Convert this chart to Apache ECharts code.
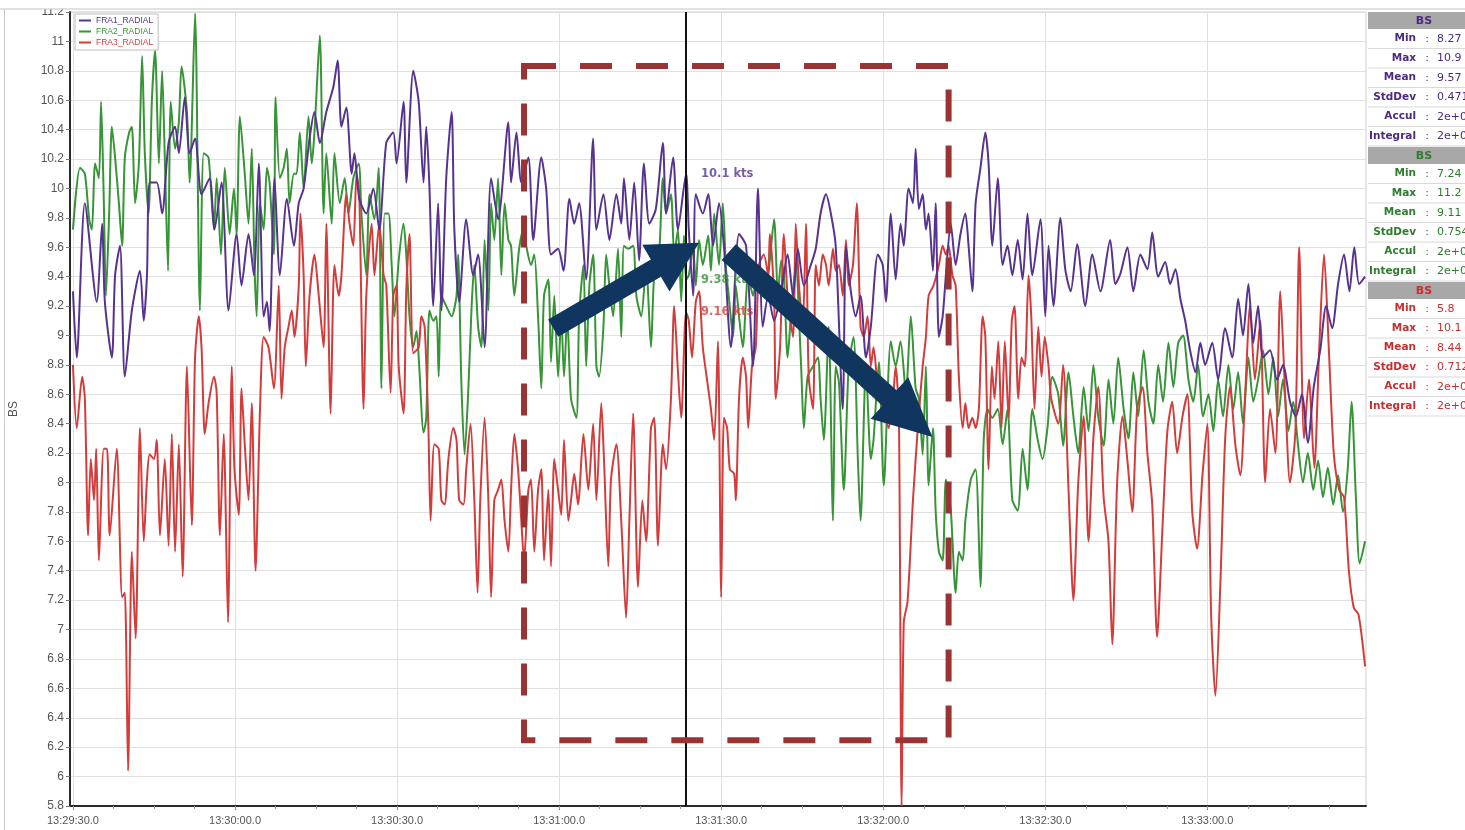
<!DOCTYPE html>
<html>
<head>
<meta charset="utf-8">
<script src="https://cdn.jsdelivr.net/npm/echarts@6/dist/echarts.min.js"></script>
<style>
  html, body { margin: 0; padding: 0; background: #fff; }
  #chart { width: 1465px; height: 830px; }
</style>
</head>
<body>
<div id="chart"></div>
<script>
// ---- Boat speed traces, [seconds after 13:29:30, knots] ----
const seriesNames = ['FRA1_RADIAL', 'FRA2_RADIAL', 'FRA3_RADIAL'];
const seriesColors = ['#56338f', '#379437', '#d43c3c'];

const fra1 = [[0,9.30],[0.7,8.85],[2.2,9.90],[4.4,9.23],[5.4,9.76],[5.9,9.23],[7.2,8.85],[7.8,9.41],[8.7,9.61],[9.6,8.72],[10.9,9.17],[12.4,9.44],[13.1,9.10],[13.7,9.41],[14.2,10.04],[15.5,10.04],[16.5,9.83],[17.7,10.31],[18.9,10.42],[19.6,10.24],[20.7,10.62],[21.6,10.24],[22.6,10.34],[23.8,9.96],[25.3,10.07],[26.2,9.72],[27.5,10.04],[28.8,9.17],[30.3,9.69],[31.2,9.34],[32.5,9.69],[33.5,9.41],[34.4,10.17],[35.3,9.13],[35.9,9.23],[36.4,9.03],[37.3,10.07],[38.3,9.41],[39.6,9.93],[40.9,9.61],[41.8,9.90],[42.7,10.00],[43.8,10.34],[44.7,10.52],[45.7,10.31],[46.9,10.52],[48.2,10.69],[49.0,10.87],[49.7,10.42],[50.6,10.55],[51.6,10.10],[52.1,10.24],[53.0,9.93],[54.3,9.83],[55.6,10.00],[56.7,9.72],[58.0,10.31],[59.3,10.38],[59.9,10.17],[61.2,10.59],[61.7,10.04],[63.0,10.80],[64.0,10.59],[64.9,10.04],[65.4,10.42],[66.0,10.00],[66.7,9.20],[67.6,9.90],[68.2,9.17],[69.1,10.07],[70.1,10.52],[70.6,9.72],[71.5,9.23],[72.8,9.79],[74.1,9.41],[75.0,9.55],[76.2,8.92],[77.4,10.07],[78.7,9.79],[80.6,10.45],[81.1,10.04],[82.1,10.38],[83.0,10.04],[84.3,10.21],[85.2,9.65],[86.7,10.21],[87.6,10.00],[88.5,9.55],[89.8,9.59],[90.8,9.44],[91.9,9.93],[92.8,9.76],[93.7,9.90],[95.0,9.38],[96.3,10.34],[96.9,9.72],[98.2,9.96],[99.3,9.65],[100.6,9.96],[101.5,9.76],[102.0,10.07],[103.0,9.65],[103.9,10.04],[104.8,9.51],[105.7,10.17],[106.7,9.76],[107.9,9.86],[109.2,10.31],[109.8,9.83],[111.1,10.21],[112.0,9.72],[113.5,10.10],[114.0,9.72],[114.8,9.27],[115.3,9.96],[116.6,9.83],[117.6,9.96],[118.5,9.61],[119.6,9.90],[120.5,9.61],[121.8,8.92],[123.3,9.69],[124.6,9.61],[125.9,8.79],[126.8,10.00],[127.7,9.06],[128.7,9.27],[129.8,9.10],[131.1,9.30],[132.3,9.55],[133.3,9.27],[134.2,9.59],[135.3,9.34],[136.6,9.48],[137.5,9.59],[138.4,9.83],[139.4,9.96],[140.3,9.83],[141.2,9.61],[142.5,8.50],[143.1,9.61],[144.0,9.30],[144.9,9.13],[145.8,9.27],[146.8,8.85],[147.7,9.06],[149.0,9.55],[149.9,9.48],[150.5,9.23],[151.4,9.83],[152.3,9.38],[153.2,9.76],[153.8,9.61],[154.7,10.00],[155.5,9.90],[156.0,10.27],[156.6,9.86],[157.3,9.96],[157.9,9.72],[158.4,9.83],[159.2,9.44],[159.7,9.90],[160.3,8.99],[161.0,9.13],[161.6,9.41],[162.5,9.76],[163.4,9.48],[164.3,9.69],[165.2,9.83],[165.8,9.61],[166.5,9.30],[167.1,9.90],[168.0,10.14],[168.9,10.38],[169.5,10.17],[170.2,9.61],[171.2,10.07],[172.1,9.48],[173.0,9.61],[173.9,9.41],[174.9,9.65],[175.8,9.38],[176.7,9.83],[177.6,9.41],[179.1,9.79],[180.0,9.13],[180.6,9.61],[181.5,9.20],[182.8,9.80],[183.7,9.45],[184.7,9.30],[185.9,9.62],[187.4,9.20],[188.7,9.55],[190.2,9.30],[192.0,9.65],[193.0,9.35],[193.9,9.42],[195.2,9.60],[196.3,9.30],[197.6,9.55],[198.9,9.45],[199.8,9.70],[200.9,9.40],[202.2,9.50],[203.1,9.35],[204.1,9.45],[205.0,9.25],[205.9,9.10],[206.8,8.90],[207.8,8.75],[208.7,8.95],[209.6,8.80],[210.9,8.95],[212.0,8.70],[213.3,9.05],[214.6,8.85],[215.7,9.25],[216.6,9.00],[217.6,9.35],[218.5,8.95],[219.4,9.20],[220.3,8.85],[221.6,8.90],[222.9,8.70],[224.0,8.80],[225.3,8.55],[226.4,8.45],[227.5,8.60],[228.6,8.27],[229.7,8.65],[230.9,8.90],[232.0,9.20],[233.1,9.05],[234.2,9.35],[235.3,9.55],[236.3,9.30],[237.2,9.60],[238.1,9.35],[239.2,9.40]];

const fra2 = [[0,9.72],[1.3,10.14],[2.2,10.10],[3.0,9.79],[3.5,9.72],[4.1,10.17],[4.8,10.07],[5.2,10.59],[5.7,9.93],[6.1,9.27],[6.7,9.83],[7.2,10.42],[7.8,10.21],[8.5,9.90],[9.1,9.61],[9.6,10.21],[10.4,10.38],[10.9,10.42],[11.5,9.90],[12.2,10.17],[12.8,10.90],[13.3,10.24],[14.0,9.83],[14.6,10.59],[15.2,10.94],[15.9,10.17],[16.5,10.80],[17.0,10.21],[17.6,9.44],[18.1,10.59],[18.9,10.27],[19.6,10.45],[20.1,10.83],[21.1,10.52],[21.6,10.04],[22.6,11.19],[23.5,9.17],[24.2,10.24],[25.1,10.21],[26.1,9.72],[26.6,10.07],[27.4,9.55],[28.1,10.14],[29.0,9.69],[29.8,10.00],[30.3,9.69],[30.9,10.49],[31.8,10.10],[32.5,9.76],[33.1,10.27],[33.6,9.48],[34.0,9.13],[34.6,9.90],[35.3,9.72],[35.9,10.14],[36.4,10.04],[37.2,9.55],[37.5,10.62],[38.3,10.07],[39.0,10.14],[39.6,10.27],[40.1,9.90],[40.9,10.10],[41.4,10.10],[42.0,10.38],[42.7,10.00],[43.6,10.49],[44.2,10.17],[44.7,10.38],[45.7,11.04],[46.4,9.83],[46.9,10.24],[47.9,9.76],[48.4,10.24],[49.4,9.90],[50.3,10.07],[51.0,9.83],[51.9,10.07],[52.9,10.17],[53.4,9.83],[54.3,9.41],[54.9,9.96],[55.8,9.79],[56.6,10.14],[57.1,8.64],[57.7,9.83],[58.4,9.83],[59.0,9.48],[59.5,9.13],[60.3,9.51],[61.2,9.76],[61.7,9.55],[62.3,9.13],[63.0,8.92],[63.6,9.03],[64.1,8.79],[64.9,8.34],[65.4,8.44],[66.0,9.17],[66.7,9.10],[67.3,9.13],[67.7,8.72],[68.2,9.27],[69.1,9.20],[70.1,9.13],[71.0,9.27],[71.3,9.55],[71.9,8.68],[72.5,8.19],[73.2,8.64],[73.8,9.20],[74.3,9.48],[75.0,9.06],[75.6,8.92],[76.2,9.65],[76.9,9.17],[77.4,9.90],[78.0,9.65],[78.7,10.07],[79.3,9.41],[79.9,9.90],[80.6,9.65],[81.1,9.61],[81.7,9.27],[82.6,9.59],[83.4,9.72],[83.9,9.61],[84.8,9.48],[85.4,9.55],[86.1,9.13],[86.7,8.64],[87.2,9.27],[88.0,9.38],[88.5,8.82],[89.1,9.27],[89.8,8.72],[90.4,9.13],[90.9,8.72],[91.5,9.13],[92.2,8.57],[93.2,8.44],[93.7,9.13],[94.5,9.48],[95.0,8.79],[95.6,9.34],[96.3,9.55],[96.9,8.79],[97.4,8.72],[98.2,9.06],[98.7,9.55],[99.3,9.34],[100.0,9.13],[100.9,9.59],[101.5,8.99],[102.0,9.61],[102.8,9.59],[103.7,9.61],[104.3,9.27],[105.2,9.13],[106.1,9.48],[107.0,8.92],[107.6,9.41],[108.5,9.55],[109.2,10.07],[109.8,9.83],[110.7,9.96],[111.3,9.55],[112.0,9.72],[112.6,9.23],[113.1,9.68],[113.5,9.38],[114.0,9.41],[114.8,9.59],[115.3,9.34],[115.9,9.65],[116.6,9.48],[117.6,9.68],[118.1,9.44],[118.7,9.83],[119.6,9.48],[120.3,9.90],[120.9,9.45],[121.4,9.27],[122.2,8.99],[122.7,9.34],[123.3,9.13],[124.0,8.92],[125.0,9.41],[125.9,9.27],[126.8,9.48],[127.7,9.27],[128.7,9.41],[129.8,9.79],[130.5,9.27],[131.1,9.51],[131.6,9.41],[132.3,8.85],[132.9,9.13],[133.8,9.48],[134.8,8.79],[135.3,8.37],[136.0,8.72],[137.0,8.79],[137.9,8.85],[138.4,8.57],[139.0,8.29],[139.9,9.06],[140.7,7.74],[141.2,8.79],[141.8,8.68],[142.7,7.95],[143.6,8.79],[144.5,8.99],[145.3,8.16],[145.8,7.74],[146.8,8.79],[147.7,8.16],[148.2,8.29],[149.2,8.82],[150.1,7.98],[151.4,8.96],[152.3,8.79],[153.2,8.96],[154.2,8.61],[155.1,9.13],[156.0,8.64],[156.6,8.57],[157.3,8.19],[157.9,8.79],[158.4,7.98],[159.2,8.37],[159.7,7.81],[160.3,7.53],[161.0,7.47],[161.6,8.02],[162.5,7.81],[163.4,7.25],[164.0,7.53],[164.7,7.47],[165.2,7.74],[166.2,8.02],[167.1,8.09],[168.0,7.29],[168.6,8.29],[169.3,8.50],[170.2,8.44],[171.2,8.50],[172.1,8.26],[173.0,8.50],[173.9,7.88],[174.9,7.81],[175.8,8.23],[176.7,7.95],[177.6,8.50],[178.6,8.29],[179.5,8.16],[180.4,8.37],[181.3,8.72],[182.4,8.60],[183.3,8.25],[184.3,8.75],[185.2,8.45],[186.1,8.20],[187.1,8.65],[188.0,8.35],[188.9,8.80],[189.8,8.45],[190.8,8.25],[191.7,8.70],[192.6,8.40],[193.5,8.85],[194.5,8.50],[195.4,8.30],[196.3,8.75],[197.2,8.45],[198.2,8.90],[199.1,8.55],[200.0,8.40],[200.9,8.80],[201.8,8.55],[202.8,8.95],[203.7,8.65],[204.6,8.95],[205.5,9.00],[206.5,8.70],[207.4,8.55],[208.3,8.80],[209.2,8.45],[210.2,8.60],[211.1,8.35],[212.0,8.70],[212.9,8.45],[213.9,8.80],[214.8,8.50],[215.7,8.75],[216.6,8.40],[217.6,8.85],[218.5,8.55],[219.4,8.70],[220.3,8.90],[221.3,8.60],[222.2,8.85],[223.1,8.45],[224.0,8.70],[225.0,8.35],[225.9,8.55],[226.8,8.25],[227.7,8.00],[228.6,8.20],[229.6,7.95],[230.5,8.15],[231.4,7.90],[232.3,8.10],[233.3,7.85],[234.2,8.05],[235.1,7.80],[236.0,8.10],[236.7,8.55],[237.5,7.90],[238.2,7.45],[239.2,7.60]];

const fra3 = [[0,8.80],[0.7,8.37],[1.7,8.72],[2.2,8.57],[2.8,7.64],[3.3,8.16],[3.9,7.88],[4.3,8.23],[4.8,7.47],[5.7,8.23],[6.3,8.23],[6.8,7.64],[8.1,8.23],[9.1,7.22],[9.6,7.25],[10.2,6.04],[10.9,7.53],[11.6,6.94],[12.4,8.37],[13.1,7.60],[13.7,8.02],[14.2,8.19],[15.0,8.16],[15.5,8.29],[16.1,7.64],[17.0,8.16],[17.7,7.57],[18.3,8.33],[18.9,7.53],[19.6,8.26],[20.3,7.36],[21.1,8.79],[22.0,7.71],[22.6,8.85],[23.3,9.13],[23.8,8.92],[24.4,8.33],[25.1,8.54],[26.1,8.72],[26.6,8.61],[27.2,7.64],[27.9,8.33],[28.7,7.05],[29.4,8.79],[29.9,8.09],[30.7,7.78],[31.2,8.64],[31.8,8.26],[32.5,7.88],[33.1,8.54],[33.8,7.40],[34.6,8.47],[35.3,8.99],[36.2,8.92],[37.2,8.64],[38.1,9.34],[38.6,8.57],[39.2,8.92],[39.9,9.06],[40.5,9.17],[41.0,8.99],[41.8,9.34],[42.1,9.83],[42.7,9.41],[43.1,8.79],[43.8,9.27],[44.7,9.55],[45.5,9.27],[46.4,8.92],[46.9,9.76],[47.7,8.47],[48.4,9.48],[49.2,9.27],[49.7,9.41],[50.6,9.96],[51.2,9.76],[51.9,9.61],[52.5,10.10],[53.0,9.96],[53.8,8.50],[54.3,9.27],[55.3,9.76],[55.8,9.41],[56.7,9.76],[57.5,9.41],[58.0,9.34],[58.8,8.61],[59.3,9.27],[59.9,9.34],[60.3,8.79],[61.2,8.47],[61.7,9.30],[62.3,9.69],[63.0,8.88],[64.0,8.92],[64.5,9.13],[65.1,9.06],[65.8,8.37],[66.2,7.74],[66.9,8.26],[67.7,8.23],[68.2,7.88],[68.8,7.85],[69.5,8.16],[70.4,8.37],[71.0,8.29],[71.5,7.88],[72.3,7.85],[72.8,8.09],[73.6,8.40],[74.3,7.88],[74.9,7.25],[75.4,7.88],[76.2,8.44],[76.9,7.88],[77.4,7.22],[78.0,7.88],[78.7,7.95],[79.3,8.02],[79.9,7.74],[80.6,7.53],[81.1,7.95],[81.7,8.33],[82.4,8.09],[83.0,7.74],[83.5,7.47],[84.3,7.95],[84.8,8.02],[85.4,7.53],[86.1,7.95],[86.7,8.09],[87.2,7.47],[88.0,7.95],[88.5,7.43],[89.1,8.16],[89.8,7.95],[90.4,7.78],[90.9,8.29],[91.7,7.74],[92.2,7.88],[92.8,8.06],[93.5,7.85],[94.5,8.33],[95.4,7.95],[96.3,8.40],[96.9,7.88],[97.8,8.54],[98.3,8.16],[99.1,7.43],[99.6,8.02],[100.6,8.26],[101.5,7.74],[102.4,7.08],[103.0,7.74],[103.7,8.47],[104.6,7.29],[105.4,7.88],[106.1,7.60],[107.0,8.37],[107.6,8.44],[108.3,7.57],[109.2,8.26],[109.8,8.09],[110.7,8.57],[111.3,9.20],[112.0,8.75],[112.6,8.44],[113.5,9.16],[114.0,9.10],[114.6,8.85],[115.3,9.23],[115.9,9.30],[116.6,8.92],[117.6,8.64],[118.1,8.50],[118.7,8.29],[119.4,8.96],[120.0,7.22],[120.5,8.44],[121.1,8.37],[121.6,8.09],[122.4,8.06],[122.7,7.88],[123.3,8.57],[124.0,8.85],[124.6,8.72],[125.0,8.37],[125.7,8.79],[126.4,8.92],[127.0,9.48],[127.9,9.55],[128.7,9.41],[129.0,9.69],[129.8,9.27],[130.1,8.57],[130.9,8.92],[131.6,9.69],[132.3,9.27],[133.3,8.99],[133.8,9.76],[134.4,9.34],[135.1,9.06],[135.7,9.76],[136.2,8.72],[137.0,8.50],[137.5,9.48],[138.1,9.34],[138.8,9.55],[139.4,9.48],[139.9,9.34],[140.7,9.59],[141.2,9.44],[141.8,9.48],[142.5,9.27],[143.1,9.65],[143.6,9.34],[144.4,9.48],[145.1,9.90],[145.8,9.06],[146.4,8.99],[147.1,9.13],[147.7,8.79],[148.2,8.92],[149.2,8.57],[150.1,8.50],[150.5,8.44],[151.0,8.37],[151.8,8.57],[152.3,8.79],[152.9,8.44],[153.4,5.80],[153.8,7.05],[154.5,7.19],[155.5,7.88],[156.4,8.37],[157.3,8.79],[157.9,8.99],[158.4,9.27],[159.3,9.34],[160.3,9.48],[161.0,9.61],[161.6,9.55],[162.1,9.61],[162.8,9.41],[163.4,9.34],[164.0,8.72],[164.7,8.37],[165.2,8.54],[165.8,8.37],[166.5,8.44],[167.1,8.37],[167.7,8.50],[168.4,9.13],[168.9,8.99],[169.5,8.09],[170.1,8.79],[170.6,8.57],[171.3,8.96],[171.9,8.37],[172.5,8.96],[173.2,8.44],[173.8,9.10],[174.3,9.20],[175.0,8.57],[175.6,8.85],[176.2,8.79],[176.9,9.41],[177.4,9.13],[178.0,8.50],[178.7,9.06],[179.3,8.72],[179.9,8.99],[180.6,8.79],[181.1,8.57],[182.4,8.40],[183.3,8.80],[184.3,7.95],[185.2,7.20],[186.1,8.00],[187.1,8.45],[188.0,7.60],[188.9,8.30],[189.8,8.65],[190.8,7.90],[191.7,7.60],[192.4,6.90],[193.3,8.00],[194.3,8.45],[195.2,8.15],[196.1,7.80],[197.0,8.50],[198.0,8.65],[198.9,8.20],[199.8,7.85],[200.7,6.95],[201.7,7.70],[202.6,8.35],[203.5,8.55],[204.4,8.20],[205.4,8.45],[206.3,8.60],[207.2,7.80],[208.1,7.55],[209.1,8.05],[210.0,8.40],[210.7,7.10],[211.5,6.55],[212.4,7.30],[213.3,8.30],[214.2,8.65],[215.2,8.25],[216.1,8.05],[217.0,8.60],[217.9,9.20],[218.8,8.70],[219.8,9.10],[220.7,8.00],[221.6,8.50],[222.6,8.20],[223.5,9.30],[224.4,8.60],[225.3,8.00],[226.3,8.35],[227.0,9.60],[227.9,8.30],[228.8,8.70],[229.8,8.10],[230.7,8.90],[231.6,9.55],[232.5,8.90],[233.4,8.20],[234.4,7.95],[235.3,7.90],[236.2,7.40],[237.1,7.15],[238.0,7.10],[239.2,6.75]];

// ---- Axes ----
const startClock = 13 * 3600 + 29 * 60 + 30;           // 13:29:30.0
const timeTicks = [0, 30, 60, 90, 120, 150, 180, 210];
const minorTimeTicks = [0, 7.5, 15, 22.5, 30, 37.5, 45, 52.5, 60, 67.5, 75, 82.5, 90, 97.5, 105, 112.5, 120, 127.5, 135, 142.5, 150, 157.5, 165, 172.5, 180, 187.5, 195, 202.5, 210, 217.5, 225, 232.5];

// ---- Cursor readout ----
const cursorTime = 113.5;
const cursorValues = [10.1, 9.38, 9.16];

// ---- Statistics panel ----
const statLabels = ['Min', 'Max', 'Mean', 'StdDev', 'Accul', 'Integral'];
const fra1Stats = ['8.27', '10.9', '9.57', '0.471', '2e+03', '2e+03'];
const fra2Stats = ['7.24', '11.2', '9.11', '0.754', '2e+03', '2e+03'];
const fra3Stats = ['5.8', '10.1', '8.44', '0.712', '2e+03', '2e+03'];
const statTitle = 'BS';
const statColors = ['#4a2b80', '#2e7d2e', '#c62f2f'];

// ---- Highlight annotations (data space) ----
const focusBox = { from: [83.5, 10.833], to: [162.1, 6.248] };
const upArrow = { from: [88.9, 9.05], to: [115.9, 9.63] };
const downArrow = { from: [121.4, 9.567], to: [159.1, 8.309] };

function fmtTime(t) {
  const s = startClock + Math.round(t * 10) / 10;
  const h = Math.floor(s / 3600);
  const m = Math.floor((s % 3600) / 60);
  const sec = s - h * 3600 - m * 60;
  return h + ':' + String(m).padStart(2, '0') + ':' + sec.toFixed(1).padStart(4, '0');
}

const chart = echarts.init(document.getElementById('chart'), null, { renderer: 'canvas' });
const FONT = '"Liberation Sans", Arial, sans-serif';
const PANEL_FONT = '"DejaVu Sans", Verdana, sans-serif';

const traceData = [fra1, fra2, fra3];
const lineSeries = seriesNames.map((name, i) => ({
  name,
  type: 'line',
  data: traceData[i],
  showSymbol: false,
  symbol: 'none',
  smooth: 0.25,
  lineStyle: { width: 2, color: seriesColors[i] },
  itemStyle: { color: seriesColors[i] },
  z: [4, 2, 3][i],
  markLine: i === 0 ? {
    silent: true,
    symbol: ['none', 'none'],
    label: { show: false },
    lineStyle: { color: '#111', width: 2, type: 'solid' },
    data: [{ xAxis: cursorTime }]
  } : undefined
}));

const readoutSeries = seriesNames.map((name, i) => ({
  name: name + ' cursor',
  type: 'scatter',
  data: [[cursorTime, cursorValues[i]]],
  symbolSize: 0,
  z: 10,
  label: {
    show: true,
    position: 'right',
    distance: 15,
    formatter: p => p.value[1] + ' kts',
    color: seriesColors[i],
    fontWeight: 'bold',
    fontSize: 11.5,
    fontFamily: PANEL_FONT
  }
}));

// statistics panel on the right
const panel = [];
[fra1Stats, fra2Stats, fra3Stats].forEach((vals, g) => {
  const top = 12 + g * 135;
  panel.push({ type: 'rect', id: 'hdr' + g, shape: { x: 1368, y: top, width: 97, height: 17 },
    style: { fill: '#a8a8a8' }, z: 50 });
  panel.push({ type: 'text', id: 'hdrT' + g, x: 1424, y: top + 9,
    style: { text: statTitle, fill: statColors[g], font: 'bold 11px ' + PANEL_FONT,
      align: 'center', textAlign: 'center', verticalAlign: 'middle', textVerticalAlign: 'middle' }, z: 51 });
  statLabels.forEach((lab, r) => {
    const rt = top + 17 + r * 19.5;
    const cy = rt + 9.75;
    panel.push({ type: 'line', id: 'sep' + g + '_' + r, shape: { x1: 1368, y1: rt + 19.5, x2: 1465, y2: rt + 19.5 },
      style: { stroke: '#d9d9d9', lineWidth: 1 }, z: 50 });
    panel.push({ type: 'text', id: 'lab' + g + '_' + r, x: 1416, y: cy,
      style: { text: lab, fill: statColors[g], font: 'bold 10.5px ' + PANEL_FONT,
        align: 'right', textAlign: 'right', verticalAlign: 'middle', textVerticalAlign: 'middle' }, z: 51 });
    panel.push({ type: 'text', id: 'col' + g + '_' + r, x: 1427, y: cy,
      style: { text: ':', fill: statColors[g], font: '11px ' + PANEL_FONT,
        align: 'center', textAlign: 'center', verticalAlign: 'middle', textVerticalAlign: 'middle' }, z: 51 });
    panel.push({ type: 'text', id: 'val' + g + '_' + r, x: 1437, y: cy,
      style: { text: vals[r], fill: statColors[g], font: '11px ' + PANEL_FONT,
        align: 'left', textAlign: 'left', verticalAlign: 'middle', textVerticalAlign: 'middle' }, z: 51 });
  });
});
// window chrome: top strip and left frame
panel.push({ type: 'rect', id: 'topStrip', shape: { x: 0, y: 0, width: 1465, height: 9 }, style: { fill: '#ffffff' }, z: 60 });
panel.push({ type: 'line', id: 'topLine', shape: { x1: 0, y1: 9, x2: 1465, y2: 9 }, style: { stroke: '#c4c4c4', lineWidth: 1 }, z: 61 });
panel.push({ type: 'line', id: 'leftFrame', shape: { x1: 4.5, y1: 9, x2: 4.5, y2: 830 }, style: { stroke: '#c8c8c8', lineWidth: 1 }, z: 61 });

const option = {
  animation: false,
  backgroundColor: '#ffffff',
  grid: { left: 68, right: 99, top: 12, bottom: 24, show: true, borderColor: '#cfcfcf', borderWidth: 1, backgroundColor: '#fff' },
  legend: {
    orient: 'vertical', left: 75, top: 14,
    itemWidth: 12, itemHeight: 2, itemGap: 2,
    padding: [2, 5, 3, 4],
    borderColor: '#bdbdbd', borderWidth: 1, backgroundColor: '#fff',
    icon: 'rect',
    textStyle: { fontSize: 8.5, fontFamily: FONT },
    data: seriesNames.map((n, i) => ({ name: n, textStyle: { color: seriesColors[i] } }))
  },
  xAxis: [{
    type: 'value', min: -0.55, max: 239.37,
    axisLine: { show: true, onZero: false, lineStyle: { color: '#2a2a2a', width: 2 } },
    axisTick: { show: true, customValues: timeTicks, length: 4, lineStyle: { color: '#777' } },
    axisLabel: { customValues: timeTicks, formatter: fmtTime, fontSize: 11, color: '#555', margin: 9, fontFamily: FONT },
    splitLine: { show: true, lineStyle: { color: '#e0e0e0', width: 1 } }
  }, {
    type: 'value', min: -0.55, max: 239.37, position: 'bottom',
    axisLine: { show: false },
    axisTick: { show: true, customValues: minorTimeTicks, length: 3, lineStyle: { color: '#999' } },
    axisLabel: { show: false },
    splitLine: { show: false }
  }],
  yAxis: {
    type: 'value', min: 5.8, max: 11.2, interval: 0.2,
    name: 'BS', nameLocation: 'middle', nameGap: 50, nameRotate: 90,
    nameTextStyle: { fontSize: 12, color: '#555', fontFamily: FONT },
    axisLine: { show: true, onZero: false, lineStyle: { color: '#2a2a2a', width: 2 } },
    axisTick: { show: true, length: 4, lineStyle: { color: '#777' } },
    axisLabel: { fontSize: 12, color: '#555', margin: 6, fontFamily: FONT,
      formatter: v => String(+(+v).toFixed(1)) },
    splitLine: { show: true, lineStyle: { color: '#e0e0e0', width: 1 } }
  },
  series: lineSeries.concat(readoutSeries),
  graphic: { elements: panel }
};
chart.setOption(option);

// ---- Annotations placed through the chart's own coordinate system ----
function px(pt) { return chart.convertToPixel({ gridIndex: 0 }, pt); }

function arrowPoints(from, to, shaftHalf, headLen, headHalf) {
  const a = px(from), b = px(to);
  const dx = b[0] - a[0], dy = b[1] - a[1];
  const len = Math.hypot(dx, dy);
  const ux = dx / len, uy = dy / len;
  const nx = -uy, ny = ux;
  const bx = b[0] - ux * headLen, by = b[1] - uy * headLen;
  return [
    [a[0] + nx * shaftHalf, a[1] + ny * shaftHalf],
    [bx + nx * shaftHalf, by + ny * shaftHalf],
    [bx + nx * headHalf, by + ny * headHalf],
    [b[0], b[1]],
    [bx - nx * headHalf, by - ny * headHalf],
    [bx - nx * shaftHalf, by - ny * shaftHalf],
    [a[0] - nx * shaftHalf, a[1] - ny * shaftHalf]
  ];
}

const p0 = px(focusBox.from), p1 = px(focusBox.to);
chart.setOption({
  graphic: {
    elements: panel.concat([
      { type: 'rect', id: 'focusBox',
        shape: { x: p0[0], y: p0[1], width: p1[0] - p0[0], height: p1[1] - p0[1] },
        style: { fill: 'none', stroke: '#9a3434', lineWidth: 6, lineDash: [32, 24] }, z: 100 },
      { type: 'polygon', id: 'arrowUp',
        shape: { points: arrowPoints(upArrow.from, upArrow.to, 10, 50, 27) },
        style: { fill: '#10365f' }, z: 101 },
      { type: 'polygon', id: 'arrowDown',
        shape: { points: arrowPoints(downArrow.from, downArrow.to, 10.5, 58, 28) },
        style: { fill: '#10365f' }, z: 101 }
    ])
  }
});
</script>
</body>
</html>
